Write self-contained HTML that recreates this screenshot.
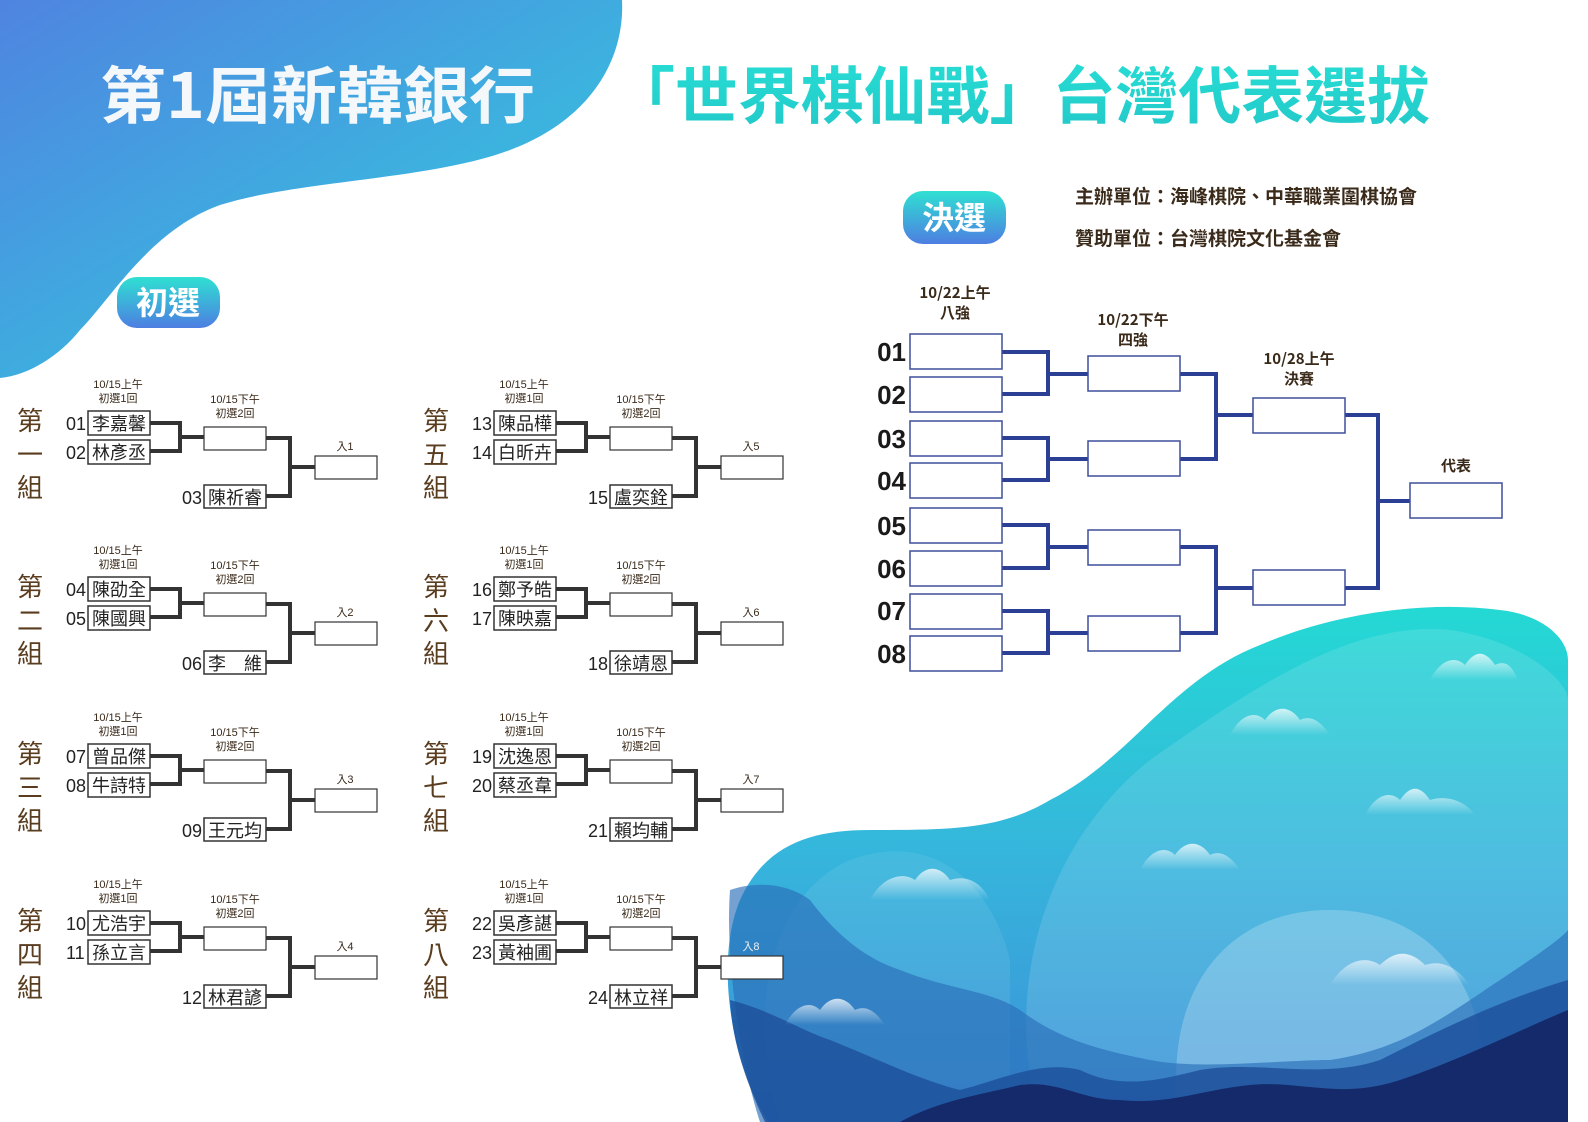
<!DOCTYPE html>
<html><head><meta charset="utf-8"><style>
html,body{margin:0;padding:0;background:#fff;}
svg{display:block;}
text{font-family:"Liberation Sans","Noto Sans CJK TC",sans-serif;}
.cj{font-family:"Noto Sans CJK TC","Liberation Sans",sans-serif;}
</style></head><body>
<svg width="1588" height="1122" viewBox="0 0 1588 1122" xmlns="http://www.w3.org/2000/svg">
<defs>
<linearGradient id="tl" x1="0" y1="0" x2="1" y2="1"><stop offset="0" stop-color="#4f84e0"/><stop offset="0.6" stop-color="#3cb3df"/><stop offset="1" stop-color="#38c4dc"/></linearGradient>
<linearGradient id="pill" x1="0" y1="0" x2="0" y2="1"><stop offset="0" stop-color="#2fe0d2"/><stop offset="1" stop-color="#4d7ee2"/></linearGradient>
<linearGradient id="blob" x1="0" y1="0" x2="0" y2="1"><stop offset="0" stop-color="#24d9d4"/><stop offset="0.5" stop-color="#36b4dc"/><stop offset="1" stop-color="#3c8fd8"/></linearGradient>
<linearGradient id="ttl" x1="0" y1="0" x2="0" y2="1"><stop offset="0" stop-color="#28e0d6"/><stop offset="1" stop-color="#22c8c8"/></linearGradient>
<linearGradient id="cloud" x1="0" y1="0" x2="0" y2="1"><stop offset="0" stop-color="#ffffff" stop-opacity="0.75"/><stop offset="1" stop-color="#ffffff" stop-opacity="0"/></linearGradient>
<g id="bk">
 <path d="M150 423 H180 V451 H150 M180 437 H204 M266 438 H290 V496 H266 M290 467 H315" fill="none" stroke="#333" stroke-width="4"/>
 <rect x="88" y="411" width="62" height="24" fill="#fff" stroke="#333" stroke-width="1.5"/>
 <rect x="88" y="440" width="62" height="24" fill="#fff" stroke="#333" stroke-width="1.5"/>
 <rect x="204" y="427" width="62" height="23" fill="#fff" stroke="#333" stroke-width="1.2"/>
 <rect x="204" y="485" width="62" height="23" fill="#fff" stroke="#333" stroke-width="1.5"/>
 <rect x="315" y="456" width="62" height="23" fill="#fff" stroke="#333" stroke-width="1.2"/>
 <text x="118" y="388" font-size="11" text-anchor="middle" fill="#3a2a1a">10/15上午</text>
 <text x="118" y="402" font-size="11" text-anchor="middle" fill="#3a2a1a">初選1回</text>
 <text x="235" y="403" font-size="11" text-anchor="middle" fill="#3a2a1a">10/15下午</text>
 <text x="235" y="417" font-size="11" text-anchor="middle" fill="#3a2a1a">初選2回</text>
</g>
</defs>
<rect width="1588" height="1122" fill="#fff"/>
<path d="M0 0 L622 0 C625 60,590 120,510 150 C430 180,300 180,220 205 C150 230,110 300,80 330 C60 355,30 375,0 378 Z" fill="url(#tl)"/>
<!-- bottom right scenery -->
<path d="M768 1122 C730 1060,715 960,740 900 C765 845,810 830,870 830 C950 830,1000 830,1050 800 C1130 760,1170 680,1260 645 C1330 615,1420 600,1500 610 C1545 615,1568 640,1568 660 L1568 1122 Z" fill="url(#blob)"/>
<path d="M1040 1122 C1000 980,1050 840,1150 760 C1250 690,1350 620,1450 630 C1520 640,1568 680,1568 700 L1568 1122 Z" fill="#ffffff" opacity="0.12"/>
<path d="M1180 1122 C1160 1000,1220 910,1330 910 C1440 910,1500 1000,1480 1122 Z" fill="#ffffff" opacity="0.22"/>
<path d="M780 1122 C750 1030,760 900,850 860 C930 830,990 880,1010 960 L1010 1122 Z" fill="#ffffff" opacity="0.08"/>
<path d="M730 890 C760 880,790 885,810 900 C840 940,870 960,900 970 C950 990,990 990,1020 1010 C1060 1040,1100 1050,1150 1060 C1200 1070,1280 1060,1330 1060 C1400 1050,1440 1020,1500 980 C1530 960,1560 940,1568 930 L1568 1122 L760 1122 C740 1060,725 960,730 890 Z" fill="#2a6fb8" opacity="0.65"/>
<path d="M730 1000 C770 1010,800 1030,830 1040 C880 1060,920 1080,960 1090 C1000 1080,1040 1060,1080 1070 C1120 1090,1160 1080,1200 1070 C1260 1060,1320 1080,1380 1060 C1440 1030,1500 1000,1568 980 L1568 1122 L765 1122 C745 1080,732 1040,730 1000 Z" fill="#1d4f9a" opacity="0.8"/>
<path d="M900 1122 C940 1100,980 1095,1020 1085 C1060 1080,1080 1100,1120 1100 C1170 1105,1200 1090,1250 1085 C1300 1080,1340 1100,1400 1080 C1460 1060,1520 1030,1568 1010 L1568 1122 Z" fill="#152a6a"/>
<g fill="url(#cloud)">
<path d="M1430 680 C1440 660,1455 655,1465 665 C1475 650,1485 650,1495 665 C1505 660,1512 665,1518 680 Z"/>
<path d="M1230 735 C1240 715,1255 710,1265 720 C1275 705,1290 705,1300 720 C1310 715,1320 720,1330 735 Z"/>
<path d="M1365 815 C1375 795,1390 790,1400 800 C1410 785,1420 785,1430 800 C1445 795,1465 800,1475 815 Z"/>
<path d="M1140 870 C1150 850,1165 845,1175 855 C1185 840,1200 840,1210 855 C1220 850,1230 855,1240 870 Z"/>
<path d="M870 900 C880 880,900 870,915 880 C925 865,940 865,950 880 C965 875,980 880,990 900 Z"/>
<path d="M1330 985 C1345 960,1365 955,1380 965 C1395 950,1410 950,1425 965 C1440 960,1455 965,1470 985 Z"/>
<path d="M785 1025 C795 1005,810 1000,820 1010 C830 995,845 995,855 1010 C865 1005,875 1010,885 1025 Z"/>
</g>
<!-- titles -->
<text x="100" y="118" class="cj" font-size="62" font-weight="bold" fill="#f4f8fb" textLength="435" lengthAdjust="spacingAndGlyphs">第1屆新韓銀行</text>
<text x="612" y="118" class="cj" font-size="62" font-weight="bold" fill="url(#ttl)" textLength="818" lengthAdjust="spacingAndGlyphs">「世界棋仙戰」台灣代表選拔</text>
<rect x="117" y="277" width="103" height="51" rx="20" fill="url(#pill)"/>
<text x="168" y="314" class="cj" font-size="32" font-weight="bold" fill="#fff" text-anchor="middle">初選</text>
<rect x="903" y="191" width="103" height="53" rx="20" fill="url(#pill)"/>
<text x="954" y="229" class="cj" font-size="32" font-weight="bold" fill="#fff" text-anchor="middle">決選</text>
<text x="1075" y="203" class="cj" font-size="19" font-weight="bold" fill="#3a2a1a">主辦單位：海峰棋院、中華職業圍棋協會</text>
<text x="1075" y="245" class="cj" font-size="19" font-weight="bold" fill="#3a2a1a">贊助單位：台灣棋院文化基金會</text>

<!-- groups -->
<g font-size="18" fill="#222">
<g>
<use href="#bk"/>
<text x="30" y="430" class="cj" font-size="26" text-anchor="middle" fill="#5a3c1e">第</text><text x="30" y="464" class="cj" font-size="26" text-anchor="middle" fill="#5a3c1e">一</text><text x="30" y="497" class="cj" font-size="26" text-anchor="middle" fill="#5a3c1e">組</text>
<text x="66" y="430">01</text><text x="92" y="430" class="cj">李嘉馨</text>
<text x="66" y="459">02</text><text x="92" y="459" class="cj">林彥丞</text>
<text x="182" y="504">03</text><text x="208" y="504" class="cj">陳祈睿</text>
<text x="345" y="450" font-size="11" text-anchor="middle" fill="#3a2a1a">入1</text>
</g>
<g transform="translate(0,166)">
<use href="#bk"/>
<text x="30" y="430" class="cj" font-size="26" text-anchor="middle" fill="#5a3c1e">第</text><text x="30" y="464" class="cj" font-size="26" text-anchor="middle" fill="#5a3c1e">二</text><text x="30" y="497" class="cj" font-size="26" text-anchor="middle" fill="#5a3c1e">組</text>
<text x="66" y="430">04</text><text x="92" y="430" class="cj">陳劭全</text>
<text x="66" y="459">05</text><text x="92" y="459" class="cj">陳國興</text>
<text x="182" y="504">06</text><text x="208" y="504" class="cj">李　維</text>
<text x="345" y="450" font-size="11" text-anchor="middle" fill="#3a2a1a">入2</text>
</g>
<g transform="translate(0,333)">
<use href="#bk"/>
<text x="30" y="430" class="cj" font-size="26" text-anchor="middle" fill="#5a3c1e">第</text><text x="30" y="464" class="cj" font-size="26" text-anchor="middle" fill="#5a3c1e">三</text><text x="30" y="497" class="cj" font-size="26" text-anchor="middle" fill="#5a3c1e">組</text>
<text x="66" y="430">07</text><text x="92" y="430" class="cj">曾品傑</text>
<text x="66" y="459">08</text><text x="92" y="459" class="cj">牛詩特</text>
<text x="182" y="504">09</text><text x="208" y="504" class="cj">王元均</text>
<text x="345" y="450" font-size="11" text-anchor="middle" fill="#3a2a1a">入3</text>
</g>
<g transform="translate(0,500)">
<use href="#bk"/>
<text x="30" y="430" class="cj" font-size="26" text-anchor="middle" fill="#5a3c1e">第</text><text x="30" y="464" class="cj" font-size="26" text-anchor="middle" fill="#5a3c1e">四</text><text x="30" y="497" class="cj" font-size="26" text-anchor="middle" fill="#5a3c1e">組</text>
<text x="66" y="430">10</text><text x="92" y="430" class="cj">尤浩宇</text>
<text x="66" y="459">11</text><text x="92" y="459" class="cj">孫立言</text>
<text x="182" y="504">12</text><text x="208" y="504" class="cj">林君諺</text>
<text x="345" y="450" font-size="11" text-anchor="middle" fill="#3a2a1a">入4</text>
</g>
<g transform="translate(406,0)">
<use href="#bk"/>
<text x="30" y="430" class="cj" font-size="26" text-anchor="middle" fill="#5a3c1e">第</text><text x="30" y="464" class="cj" font-size="26" text-anchor="middle" fill="#5a3c1e">五</text><text x="30" y="497" class="cj" font-size="26" text-anchor="middle" fill="#5a3c1e">組</text>
<text x="66" y="430">13</text><text x="92" y="430" class="cj">陳品樺</text>
<text x="66" y="459">14</text><text x="92" y="459" class="cj">白昕卉</text>
<text x="182" y="504">15</text><text x="208" y="504" class="cj">盧奕銓</text>
<text x="345" y="450" font-size="11" text-anchor="middle" fill="#3a2a1a">入5</text>
</g>
<g transform="translate(406,166)">
<use href="#bk"/>
<text x="30" y="430" class="cj" font-size="26" text-anchor="middle" fill="#5a3c1e">第</text><text x="30" y="464" class="cj" font-size="26" text-anchor="middle" fill="#5a3c1e">六</text><text x="30" y="497" class="cj" font-size="26" text-anchor="middle" fill="#5a3c1e">組</text>
<text x="66" y="430">16</text><text x="92" y="430" class="cj">鄭予皓</text>
<text x="66" y="459">17</text><text x="92" y="459" class="cj">陳映嘉</text>
<text x="182" y="504">18</text><text x="208" y="504" class="cj">徐靖恩</text>
<text x="345" y="450" font-size="11" text-anchor="middle" fill="#3a2a1a">入6</text>
</g>
<g transform="translate(406,333)">
<use href="#bk"/>
<text x="30" y="430" class="cj" font-size="26" text-anchor="middle" fill="#5a3c1e">第</text><text x="30" y="464" class="cj" font-size="26" text-anchor="middle" fill="#5a3c1e">七</text><text x="30" y="497" class="cj" font-size="26" text-anchor="middle" fill="#5a3c1e">組</text>
<text x="66" y="430">19</text><text x="92" y="430" class="cj">沈逸恩</text>
<text x="66" y="459">20</text><text x="92" y="459" class="cj">蔡丞韋</text>
<text x="182" y="504">21</text><text x="208" y="504" class="cj">賴均輔</text>
<text x="345" y="450" font-size="11" text-anchor="middle" fill="#3a2a1a">入7</text>
</g>
<g transform="translate(406,500)">
<use href="#bk"/>
<text x="30" y="430" class="cj" font-size="26" text-anchor="middle" fill="#5a3c1e">第</text><text x="30" y="464" class="cj" font-size="26" text-anchor="middle" fill="#5a3c1e">八</text><text x="30" y="497" class="cj" font-size="26" text-anchor="middle" fill="#5a3c1e">組</text>
<text x="66" y="430">22</text><text x="92" y="430" class="cj">吳彥諶</text>
<text x="66" y="459">23</text><text x="92" y="459" class="cj">黃袖圃</text>
<text x="182" y="504">24</text><text x="208" y="504" class="cj">林立祥</text>
<text x="345" y="450" font-size="11" text-anchor="middle" fill="#eee">入8</text>
</g>
</g>

<!-- finals -->
<g fill="none" stroke="#2b3f95" stroke-width="4">
<path d="M1002 352 H1048 V394 H1002 M1048 374 H1088"/>
<path d="M1002 438 H1048 V480 H1002 M1048 459 H1088"/>
<path d="M1002 525 H1048 V568 H1002 M1048 547 H1088"/>
<path d="M1002 611 H1048 V653 H1002 M1048 633 H1088"/>
<path d="M1180 374 H1216 V459 H1180 M1216 415 H1253"/>
<path d="M1180 547 H1216 V633 H1180 M1216 588 H1253"/>
<path d="M1345 415 H1378 V588 H1345 M1378 501 H1410"/>
</g>
<g fill="#fff" stroke="#3d4f9a" stroke-width="1.5">
<rect x="910" y="334" width="92" height="35"/><rect x="910" y="377" width="92" height="35"/>
<rect x="910" y="421" width="92" height="35"/><rect x="910" y="463" width="92" height="35"/>
<rect x="910" y="508" width="92" height="35"/><rect x="910" y="551" width="92" height="35"/>
<rect x="910" y="594" width="92" height="35"/><rect x="910" y="636" width="92" height="35"/>
<rect x="1088" y="356" width="92" height="35"/><rect x="1088" y="441" width="92" height="35"/>
<rect x="1088" y="530" width="92" height="35"/><rect x="1088" y="616" width="92" height="35"/>
<rect x="1253" y="398" width="92" height="35"/><rect x="1253" y="570" width="92" height="35"/>
<rect x="1410" y="483" width="92" height="35"/>
</g>
<g font-size="26" font-weight="bold" fill="#1a1a1a" text-anchor="end">
<text x="906" y="361">01</text><text x="906" y="404">02</text><text x="906" y="448">03</text><text x="906" y="490">04</text>
<text x="906" y="535">05</text><text x="906" y="578">06</text><text x="906" y="620">07</text><text x="906" y="663">08</text>
</g>
<g class="cj" font-size="15" font-weight="bold" fill="#3a2a1a" text-anchor="middle">
<text x="955" y="298" class="cj">10/22上午</text><text x="955" y="318" class="cj">八強</text>
<text x="1133" y="325" class="cj">10/22下午</text><text x="1133" y="345" class="cj">四強</text>
<text x="1299" y="364" class="cj">10/28上午</text><text x="1299" y="384" class="cj">決賽</text>
<text x="1456" y="471" class="cj">代表</text>
</g>
</svg>
</body></html>
